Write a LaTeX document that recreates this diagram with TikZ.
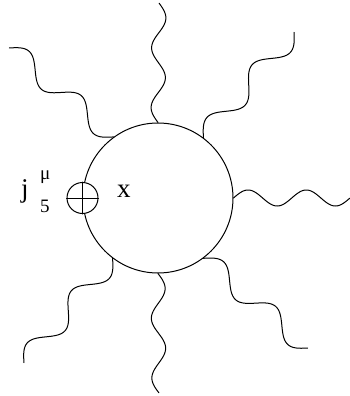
\documentclass[tikz,border=0pt]{standalone}
\usepackage{fontspec}
\setmainfont{Liberation Serif}
\usetikzlibrary{calc}
\tikzset{
  line/.style={line width=1pt, line cap=round, line join=round},
  lbl/.style={anchor=base west, inner sep=0pt, outer sep=0pt},
  big/.style={font=\fontsize{27}{27}\selectfont},
  small/.style={font=\fontsize{19}{19}\selectfont},
}
\newcommand\wavy[4]{%
  \draw[line] let \p1=(#1), \p2=(#2),
    \n1={atan2(\y2-\y1,\x2-\x1)}, \n2={veclen(\x2-\x1,\y2-\y1)} in
    plot[variable=\t, domain=0:1, samples=161, smooth]
    ({\x1+(\t*\n2*cos(\n1)-#3*sin(\t*360*#4)*sin(\n1))*1pt},
     {\y1+(\t*\n2*sin(\n1)+#3*sin(\t*360*#4)*cos(\n1))*1pt});
}
\begin{document}
\begin{tikzpicture}[x=1pt,y=-1pt]
\useasboundingbox (0,0) rectangle (349,396);
\node[circle, draw, line, minimum size=150pt, inner sep=0pt] (loop) at (158,198) {};
% free ends
\coordinate (e1) at (159,3);
\coordinate (e2) at (294,32);
\coordinate (e3) at (350,198);
\coordinate (e4) at (308,348);
\coordinate (e5) at (159,393);
\coordinate (e6) at (24,363);
\coordinate (e7) at (9,48);
\wavy{loop.90}{e1}{7}{2}
\wavy{loop.53.1}{e2}{10.5}{2}
\wavy{loop.0}{e3}{8}{2}
\wavy{loop.-53.1}{e4}{10.5}{2}
\wavy{loop.270}{e5}{7}{2}
\wavy{loop.233.1}{e6}{10.5}{2}
\wavy{loop.126.9}{e7}{10.5}{2}
% vertex
\node[circle, draw, line, fill=white, minimum size=31pt, inner sep=0pt] (v) at (loop.180) {};
\draw[line] (v.north) -- (v.south) (v.west) -- (v.east);
% labels
\node[lbl, big] (j) at (21,197) {j};
\node[lbl, small] (mu) at (40,179) {μ};
\node[lbl, small] (five) at (40,212) {5};
\node[lbl, big] (x) at (117,197) {x};
\end{tikzpicture}
\end{document}
